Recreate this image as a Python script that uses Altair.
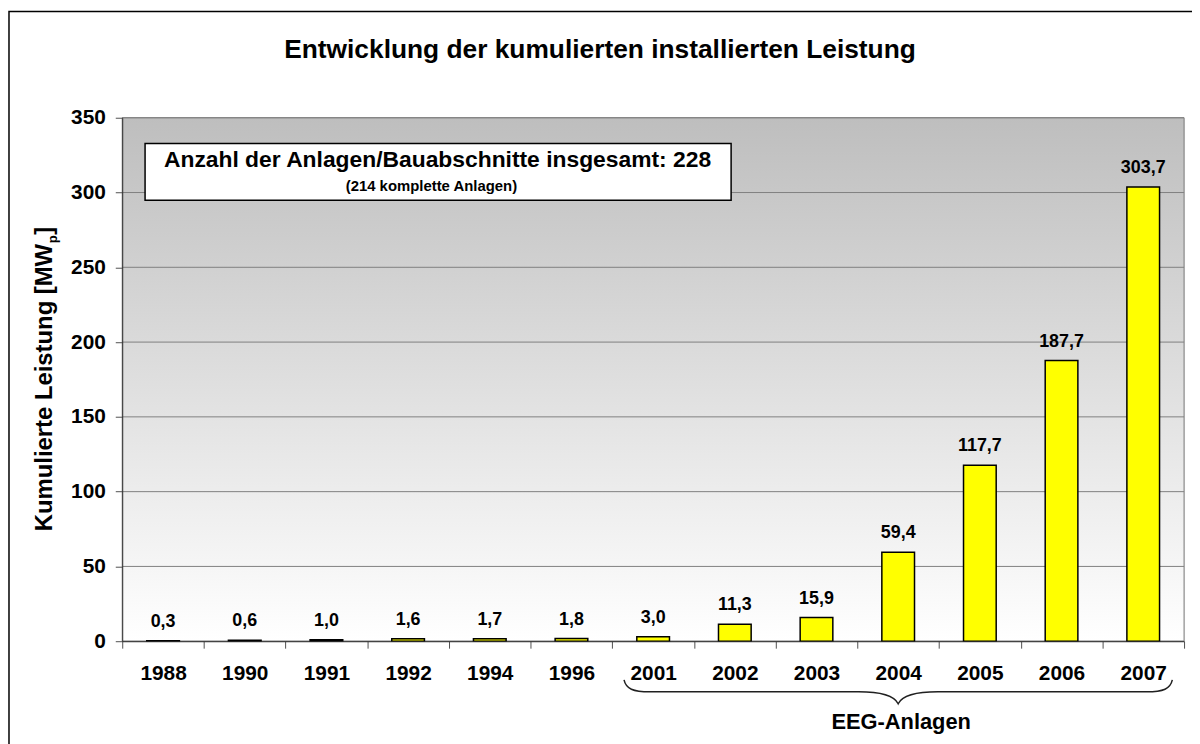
import altair as alt
import pandas as pd

# ---------------- data ----------------
years = ["1988", "1990", "1991", "1992", "1994", "1996", "2001",
         "2002", "2003", "2004", "2005", "2006", "2007"]
capacity = [0.3, 0.6, 1.0, 1.6, 1.7, 1.8, 3.0, 11.3, 15.9, 59.4, 117.7, 187.7, 303.7]
y_ticks = [0, 50, 100, 150, 200, 250, 300, 350]
eeg_years = years[6:]

title_text = "Entwicklung der kumulierten installierten Leistung"
box_line1 = "Anzahl der Anlagen/Bauabschnitte insgesamt: 228"
box_line2 = "(214 komplette Anlagen)"
y_title_main = "Kumulierte Leistung [MW"
y_title_sub = "p"
y_title_end = "]"
eeg_label = "EEG-Anlagen"

# ---------------- layout ----------------
W, H = 1069, 527
PAD_L, PAD_T = 115, 108
PAD_R = 1192 - PAD_L - W
PAD_B = 736 - PAD_T - H
OX, OY = 8 + PAD_L, 8 + PAD_T          # page position of plot origin
FONT = "Liberation Sans"

df = pd.DataFrame({
    "year": years,
    "value": capacity,
    "label": [f"{v:.1f}".replace(".", ",") for v in capacity],
})
one = pd.DataFrame({"k": [0]})

x_scale = alt.Scale(domain=years, paddingInner=0, paddingOuter=0)
y_scale = alt.Scale(domain=[0, 350], nice=False)
x_axis = alt.Axis(
    title=None, labelAngle=0, labelFont=FONT, labelFontSize=21, labelFontWeight="bold",
    labelColor="black", labelPadding=15, tickBand="extent", tickSize=7,
    tickColor="#505050", domainColor="#303030", grid=False, zindex=1)
y_axis = alt.Axis(
    values=y_ticks, title=None, labelFont=FONT, labelFontSize=21, labelFontWeight="bold",
    labelColor="black", labelPadding=10, tickSize=7, tickColor="#505050",
    domainColor="#303030", grid=False, zindex=1)

X = lambda f="year": alt.X(f"{f}:N", scale=x_scale, axis=x_axis)
Y = lambda f="value": alt.Y(f"{f}:Q", scale=y_scale, axis=y_axis)

# outer frame of the whole chart
frame = alt.Chart(one).mark_rect(fillOpacity=0, stroke="black", strokeWidth=1.5).encode(
    x=alt.value(9 - OX), x2=alt.value(W + 40),
    y=alt.value(9 - OY), y2=alt.value(H + 140),
)

# plot-area gradient background
bg = alt.Chart(one).mark_rect(
    color=alt.Gradient(
        gradient="linear",
        stops=[alt.GradientStop(color="#bebebe", offset=0),
               alt.GradientStop(color="#ffffff", offset=1)],
        x1=0, x2=0, y1=0, y2=1,
    ),
    stroke="#808080", strokeWidth=1,
).encode(x=alt.value(0), x2=alt.value(W), y=alt.value(0), y2=alt.value(H))

# horizontal gridlines
grid = alt.Chart(pd.DataFrame({"v": y_ticks})).mark_rule(color="#808080", strokeWidth=1).encode(
    y=Y("v")
)

bars = alt.Chart(df).mark_bar(
    color="#ffff00", stroke="black", strokeWidth=1.5, width=alt.RelativeBandSize(0.4)
).encode(x=X(), y=Y())

values = alt.Chart(df).mark_text(
    font=FONT, fontSize=18, fontWeight="bold", baseline="bottom", dy=-10, color="black"
).encode(x=X(), y=Y(), text="label:N")

# info box
box = alt.Chart(one).mark_rect(fill="white", stroke="black", strokeWidth=1.5).encode(
    x=alt.value(146 - OX), x2=alt.value(736 - OX), y=alt.value(142 - OY), y2=alt.value(199 - OY)
)
box_t1 = alt.Chart(pd.DataFrame({"t": [box_line1]})).mark_text(
    font=FONT, fontSize=23, fontWeight="bold", baseline="alphabetic", align="left", color="black"
).encode(x=alt.value(165 - OX), y=alt.value(166 - OY), text="t:N")
box_t2 = alt.Chart(pd.DataFrame({"t": [box_line2]})).mark_text(
    font=FONT, fontSize=15, fontWeight="bold", baseline="alphabetic", align="left", color="black"
).encode(x=alt.value(348 - OX), y=alt.value(190 - OY), text="t:N")

# chart title
title = alt.Chart(pd.DataFrame({"t": [title_text]})).mark_text(
    font=FONT, fontSize=26.5, fontWeight="bold", baseline="middle", align="center", color="black"
).encode(x=alt.value(604 - OX), y=alt.value(48 - OY), text="t:N")

# y axis title with subscript
S = 24
SUB = 0.55 * S
main_len = 12.056 * S
sub_len = 0.611 * SUB
total = main_len + sub_len + 0.333 * S
yc = H / 2
y0 = yc + total / 2
bx = 52 - OX
yt_main = alt.Chart(pd.DataFrame({"t": [y_title_main]})).mark_text(
    font=FONT, fontSize=S, fontWeight="bold", angle=270, align="left", baseline="alphabetic",
    color="black"
).encode(x=alt.value(bx), y=alt.value(y0), text="t:N")
yt_sub = alt.Chart(pd.DataFrame({"t": [y_title_sub]})).mark_text(
    font=FONT, fontSize=SUB, fontWeight="bold", angle=270, align="left",
    baseline="alphabetic", color="black"
).encode(x=alt.value(bx + 5), y=alt.value(y0 - main_len - 0.5), text="t:N")
yt_end = alt.Chart(pd.DataFrame({"t": [y_title_end]})).mark_text(
    font=FONT, fontSize=S, fontWeight="bold", angle=270, align="left", baseline="alphabetic",
    color="black"
).encode(x=alt.value(bx), y=alt.value(y0 - main_len - sub_len - 1), text="t:N")

# curly brace under the EEG years
hw = 276.0
pts = ("M -276 -12 C -274 -3 -267 0 -250 0 L -40 0 C -16 0 -4 4 0 12 "
       "C 4 4 16 0 40 0 L 250 0 C 267 0 274 -3 276 -12")
def norm(path):
    out = []
    for tok in path.split():
        try:
            out.append(f"{float(tok) / hw:.4f}")
        except ValueError:
            out.append(tok)
    return " ".join(out)
brace_path = norm(pts)
mid_year = eeg_years[len(eeg_years) // 2]
eeg_df = pd.DataFrame({"year": [mid_year], "t": [eeg_label]})
brace = alt.Chart(eeg_df).mark_point(
    shape=brace_path, filled=False, stroke="#202020", strokeWidth=1.5, opacity=1
).encode(x=X(), y=alt.value(694 - OY), size=alt.value((2 * hw) ** 2))
eeg_text = alt.Chart(eeg_df).mark_text(
    font=FONT, fontSize=22, fontWeight="bold", baseline="middle", color="black", dx=3
).encode(x=X(), y=alt.value(724 - OY), text="t:N")

chart = alt.layer(
    frame, bg, grid, bars, values, box, box_t1, box_t2, title,
    yt_main, yt_sub, yt_end, brace, eeg_text
).properties(
    width=W, height=H,
    padding={"left": PAD_L, "top": PAD_T, "right": PAD_R, "bottom": PAD_B},
    autosize=alt.AutoSizeParams(type="none"),
).configure_view(strokeWidth=0).configure(background="white")

chart.save("out.html", embed_options={"renderer": "svg", "actions": False})
